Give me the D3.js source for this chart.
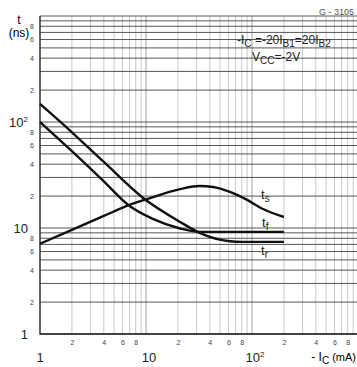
<!DOCTYPE html>
<html>
<head>
<meta charset="utf-8">
<script src="https://cdn.jsdelivr.net/npm/d3@7"></script>
<style>
body { margin: 0; background: #fff; }
svg { display: block; font-family: "Liberation Sans", Arial, sans-serif; }
</style>
</head>
<body>
<svg id="chart" width="357" height="367"></svg>
<script>
// switching times t (ns) against -Ic (mA)
const tsCurrent = [1, 2, 4, 7, 10, 21, 32, 43, 62, 90, 127, 200];
const tsTime    = [7.1, 9.6, 13, 16.5, 18.6, 23.3, 24.9, 24.4, 21.9, 18.4, 15.1, 12.7];

const tfCurrent = [1, 2, 4, 6.8, 11.6, 21, 32, 60, 200];
const tfTime    = [100, 53, 27.5, 16.5, 12.2, 9.9, 9.2, 9.2, 9.2];

const trCurrent = [1, 2, 4, 9.4, 21, 32, 62, 80, 200];
const trTime    = [148, 80, 42, 19.2, 11.4, 9, 7.5, 7.4, 7.4];

// log paper
const gridValues = [1, 2, 3, 4, 5, 6, 7, 8, 9,
                    10, 20, 30, 40, 50, 60, 70, 80, 90,
                    100, 200, 300, 400, 500, 600, 700, 800, 900, 1000];
const minorTicks = [2, 4, 6, 8, 20, 40, 60, 80, 200, 400, 600, 800];
const decadeTicks = [1, 10, 100];

const svg = d3.select('#chart');

const x = d3.scaleLog().domain([1, 1000]).range([40, 358]);
const y = d3.scaleLog().domain([1, 1000]).range([334, 16]);

const leading = d => String(Math.round(d / Math.pow(10, Math.floor(Math.log10(d) + 1e-9))));

// vertical grid
svg.append('g')
	.selectAll('line')
	.data(gridValues)
	.enter()
	.append('line')
	.attr('x1', d => x(d))
	.attr('x2', d => x(d))
	.attr('y1', y(1000))
	.attr('y2', y(1))
	.style('stroke', d => (d == 10 || d == 100) ? '#888' : '#bbb')
	.style('stroke-width', 0.8)
;

// horizontal grid
svg.append('g')
	.selectAll('line')
	.data(gridValues)
	.enter()
	.append('line')
	.attr('x1', x(1))
	.attr('x2', 357)
	.attr('y1', d => y(d))
	.attr('y2', d => y(d))
	.style('stroke', '#444')
	.style('stroke-width', 0.9)
;

// frame (left and bottom)
svg.append('path')
	.attr('d', 'M' + x(1) + ',' + y(1000) + 'V' + y(1) + 'H357')
	.style('fill', 'none')
	.style('stroke', '#222')
	.style('stroke-width', 1.3)
;

// small tick labels
let xAxis = svg.append('g')
	.attr('transform', 'translate(0,' + y(1) + ')')
	.call(d3.axisBottom(x).tickValues(minorTicks).tickSize(0).tickPadding(6).tickFormat(leading))
;
let yAxis = svg.append('g')
	.attr('transform', 'translate(' + x(1) + ',0)')
	.call(d3.axisLeft(y).tickValues(minorTicks).tickSize(0).tickPadding(6).tickFormat(leading))
;
[xAxis, yAxis].forEach(a => {
	a.select('.domain').remove();
	a.selectAll('text')
		.style('font-size', '7px')
		.style('fill', '#444')
		.style('font-family', '"Liberation Sans", Arial, sans-serif')
	;
});

// decade labels
const decadeLabel = (g, d) => {
	if(d == 100)
	{
		g.append('tspan').text('10');
		g.append('tspan').attr('dy', -5).style('font-size', '8px').text('2');
	}
	else
	{
		g.text(d);
	}
};

svg.append('g')
	.selectAll('text')
	.data(decadeTicks)
	.enter()
	.append('text')
	.attr('x', d => x(d) + (d == 1 ? 0 : 3))
	.attr('y', 362)
	.attr('text-anchor', 'middle')
	.style('font-size', '13px')
	.style('fill', '#222')
	.each(function(d) { decadeLabel(d3.select(this), d); })
;

svg.append('g')
	.selectAll('text')
	.data(decadeTicks)
	.enter()
	.append('text')
	.attr('x', 28)
	.attr('y', d => y(d) + 5)
	.attr('text-anchor', 'end')
	.style('font-size', '13px')
	.style('fill', '#222')
	.each(function(d) { decadeLabel(d3.select(this), d); })
;

// axis titles
svg.append('text')
	.attr('x', 19)
	.attr('y', 24)
	.attr('text-anchor', 'middle')
	.style('font-size', '12px')
	.text('t')
;
svg.append('text')
	.attr('x', 19)
	.attr('y', 37)
	.attr('text-anchor', 'middle')
	.style('font-size', '12px')
	.text('(ns)')
;

let xTitle = svg.append('text')
	.attr('x', 356)
	.attr('y', 361)
	.attr('text-anchor', 'end')
	.style('font-size', '12px')
;
xTitle.append('tspan').text('- I');
xTitle.append('tspan').attr('dy', 3).style('font-size', '10px').text('C');
xTitle.append('tspan').attr('dy', -3).style('font-size', '11px').text(' (mA)');

// sheet number
svg.append('text')
	.attr('x', 354)
	.attr('y', 15)
	.attr('text-anchor', 'end')
	.style('font-size', '9px')
	.style('fill', '#555')
	.text('G - 3105')
;

// test conditions
let cond = svg.append('text')
	.attr('x', 237)
	.attr('y', 44)
	.style('font-size', '12px')
	.style('fill', '#222')
;
cond.append('tspan').text('-I');
cond.append('tspan').attr('dy', 3).style('font-size', '10px').text('C');
cond.append('tspan').attr('dy', -3).text(' =-20I');
cond.append('tspan').attr('dy', 3).style('font-size', '10px').text('B1');
cond.append('tspan').attr('dy', -3).text('=20I');
cond.append('tspan').attr('dy', 3).style('font-size', '10px').text('B2');

let vcc = svg.append('text')
	.attr('x', 252)
	.attr('y', 61)
	.style('font-size', '12px')
	.style('fill', '#222')
;
vcc.append('tspan').text('V');
vcc.append('tspan').attr('dy', 3).style('font-size', '10px').text('CC');
vcc.append('tspan').attr('dy', -3).text('=-2V');

// curves
const series = [
	{ name: 's', current: tsCurrent, time: tsTime, lx: 261, ly: 199 },
	{ name: 'f', current: tfCurrent, time: tfTime, lx: 262, ly: 227 },
	{ name: 'r', current: trCurrent, time: trTime, lx: 261, ly: 255 }
];

const line = d3.line()
	.x(d => x(d[0]))
	.y(d => y(d[1]))
	.curve(d3.curveMonotoneX)
;

series.forEach(s => {
	svg.append('path')
		.datum(s.current.map((c, i) => [c, s.time[i]]))
		.attr('d', line)
		.style('fill', 'none')
		.style('stroke', '#111')
		.style('stroke-width', 2.4)
	;

	let label = svg.append('text')
		.attr('x', s.lx)
		.attr('y', s.ly)
		.style('font-size', '13px')
		.style('fill', '#222')
	;
	label.append('tspan').text('t');
	label.append('tspan').attr('dy', 3).style('font-size', '10px').text(s.name);
});
</script>
</body>
</html>
